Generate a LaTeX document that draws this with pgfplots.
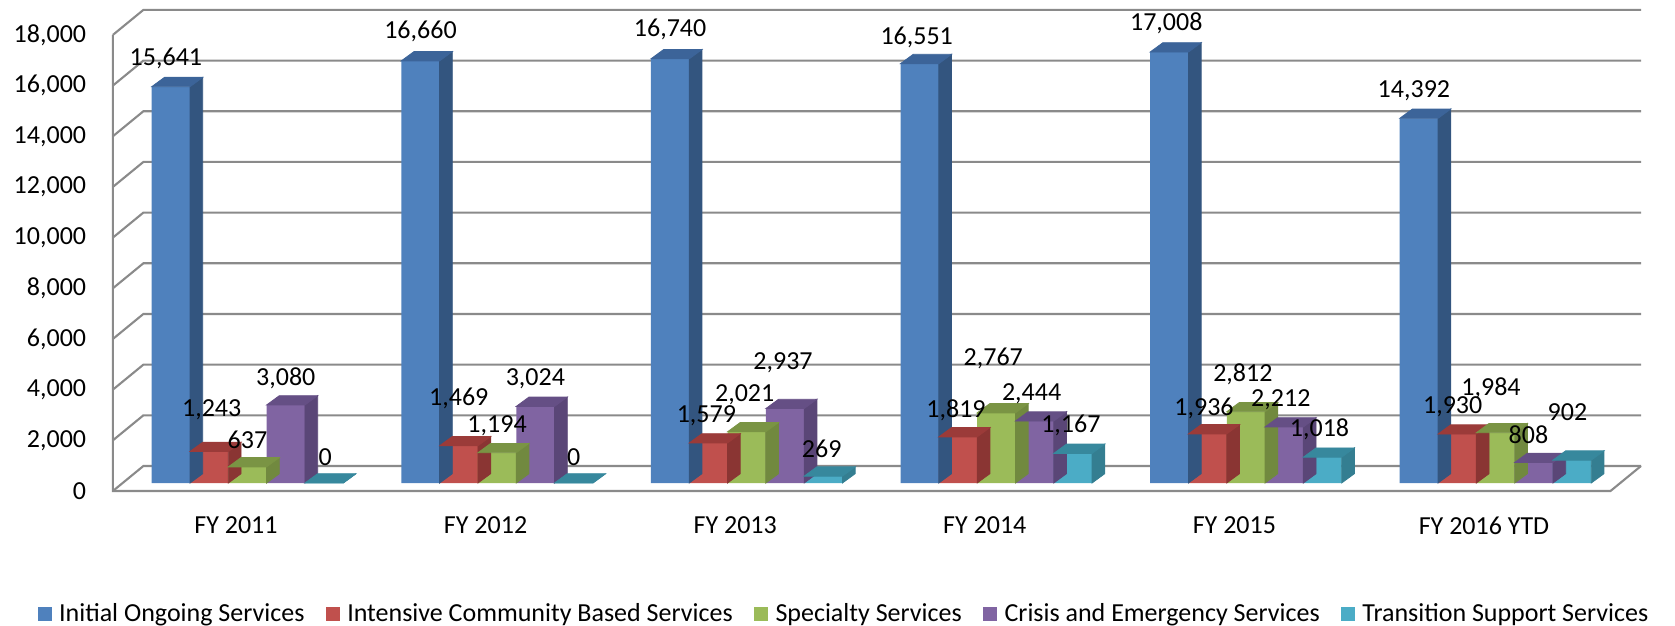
\documentclass[border=0pt]{standalone}
\usepackage{fontspec}
\setmainfont{Carlito}
\usepackage{pgfplots}
\pgfplotsset{compat=1.18}
\usepackage{pgfplotstable}

\definecolor{bF}{HTML}{4F81BD}\definecolor{bS}{HTML}{33557F}\definecolor{bT}{HTML}{3C6499}
\definecolor{rF}{HTML}{C0504D}\definecolor{rS}{HTML}{8A3533}\definecolor{rT}{HTML}{9B3B39}
\definecolor{gF}{HTML}{9BBB59}\definecolor{gS}{HTML}{71893F}\definecolor{gT}{HTML}{7A9444}
\definecolor{pF}{HTML}{8064A2}\definecolor{pS}{HTML}{5A4677}\definecolor{pT}{HTML}{654F85}
\definecolor{tF}{HTML}{4BACC6}\definecolor{tS}{HTML}{347E91}\definecolor{tT}{HTML}{37889D}
\definecolor{gridc}{HTML}{8A8A8A}

\pgfdeclareplotmark{emptymark}{}

% x = category index, y = value, lx/ly = label offset (px) from bar top centre
\pgfplotstableread{
x y lx ly
0 15641 -5 28
1 16660 0 29
2 16740 0 29
3 16551 -3 26.6
4 17008 -3 29
5 14392 -5 28
}\tIOS
\pgfplotstableread{
x y lx ly
0 1243 2.5 41.7
1 1469 0 47
2 1579 -2 27.3
3 1819 -2 26.7
4 1936 -3.6 26
5 1930 -4.5 27.7
}\tICB
\pgfplotstableread{
x y lx ly
0 637 0 26.7
1 1194 0 26.7
2 2021 -2 37
3 2767 -3 55
4 2812 -3 37
5 1984 -4.5 44
}\tSS
\pgfplotstableread{
x y lx ly
0 3080 0 27
1 3024 0 27.7
2 2937 -2 46
3 2444 -3 27.7
4 2212 -3.4 27.7
5 808 -5.4 28.3
}\tCES
\pgfplotstableread{
x y lx ly
0 0 1 26
1 0 0 26
2 269 -1.6 27
3 1167 -2 28
4 1018 -3 27.7
5 902 -4.7 47.7
}\tTSS

\pgfplotsset{
  front/.style={ybar, bar width=0.15345, bar shift=#1, draw=none,
    legend image code/.code={\fill[##1] (0pt,-3.5pt) rectangle (7pt,3.5pt);}},
  faces/.style 2 args={only marks, mark=emptymark, forget plot, scatter,
    point meta=y, point meta min=0, point meta max=18000,
    scatter/@pre marker code/.code={%
      \pgfmathsetmacro\hh{\pgfplotspointmetatransformed*0.22805}%
      \fill[#1] (9.575pt,0pt) -- (15.925pt,4.65pt) -- (15.925pt,4.65pt-\hh pt) -- (9.575pt,-\hh pt) -- cycle;
      \fill[#2] (-9.575pt,0pt) -- (9.575pt,0pt) -- (15.925pt,4.65pt) -- (-3.225pt,4.65pt) -- cycle;
    },
    scatter/@post marker code/.code={}},
  labels/.style={only marks, mark=emptymark, forget plot,
    nodes near coords,
    visualization depends on={\thisrow{lx} \as \labx},
    visualization depends on={\thisrow{ly} \as \laby},
    every node near coord/.append style={anchor=center, inner sep=0pt,
      font=\fontsize{13}{15}\selectfont, text=black,
      xshift=\labx*0.5pt, yshift=\laby*0.5pt}},
}

\begin{document}
\begin{tikzpicture}
\useasboundingbox (-61.35pt,-71.5pt) rectangle (776.15pt,241.5pt);
\begin{axis}[
  at={(0,0)}, anchor=south west,
  scale only axis, width=748.8pt, height=228.05pt,
  xmin=-0.5, xmax=5.5, ymin=0, ymax=18000,
  clip=false,
  axis line style={draw=none},
  major tick length=0pt,
  xtick={0,1,2,3,4,5},
  xticklabels={FY 2011,FY 2012,FY 2013,FY 2014,FY 2015,FY 2016 YTD},
  ytick={0,2000,4000,6000,8000,10000,12000,14000,16000,18000},
  scaled y ticks=false,
  /pgf/number format/.cd, fixed, 1000 sep={,}, assume math mode=true, /pgfplots/.cd,
  tick label style={font=\fontsize{13}{15}\selectfont, inner sep=0pt},
  yticklabel style={anchor=east, xshift=-18.1pt, yshift=-4pt},
  xticklabel style={anchor=center, xshift=-5.75pt, yshift=-21.3pt},
  legend style={at={(0.4824,-0.287)}, anchor=center, draw=none, fill=none,
    font=\fontsize{13}{15}\selectfont, inner sep=0pt,
    /tikz/every odd column/.append style={column sep=1.6pt},
    /tikz/every even column/.append style={column sep=8.8pt}},
  legend columns=-1,
]
% walls and floor
\pgfplotsinvokeforeach{0,2000,4000,6000,8000,10000,12000,14000,16000,18000}{
  \draw[gridc, line width=1.05pt] ([shift={(-4.9pt,-4pt)}]axis cs:-0.5,#1) -- ([shift={(10.35pt,8.5pt)}]axis cs:-0.5,#1) -- ([shift={(10.35pt,8.5pt)}]axis cs:5.5,#1);
}
\draw[gridc, line width=1.05pt] ([shift={(-4.9pt,-4pt)}]axis cs:-0.5,18000) -- ([shift={(-4.9pt,-4pt)}]axis cs:-0.5,0) -- ([shift={(-4.9pt,-4pt)}]axis cs:5.5,0) -- ([shift={(10.35pt,8.5pt)}]axis cs:5.5,0);

\addplot[faces={bS}{bT}] table[x expr=\thisrow{x}-0.3069, y=y] {\tIOS};
\addplot[front=-0.3069, fill=bF] table[x=x, y=y] {\tIOS};
\addlegendentry{Initial Ongoing Services}
\addplot[faces={rS}{rT}] table[x expr=\thisrow{x}-0.15345, y=y] {\tICB};
\addplot[front=-0.15345, fill=rF] table[x=x, y=y] {\tICB};
\addlegendentry{Intensive Community Based Services}
\addplot[faces={gS}{gT}] table[x expr=\thisrow{x}, y=y] {\tSS};
\addplot[front=0, fill=gF] table[x=x, y=y] {\tSS};
\addlegendentry{Specialty Services}
\addplot[faces={pS}{pT}] table[x expr=\thisrow{x}+0.15345, y=y] {\tCES};
\addplot[front=0.15345, fill=pF] table[x=x, y=y] {\tCES};
\addlegendentry{Crisis and Emergency Services}
\addplot[faces={tS}{tT}] table[x expr=\thisrow{x}+0.3069, y=y] {\tTSS};
\addplot[front=0.3069, fill=tF] table[x=x, y=y] {\tTSS};
\addlegendentry{Transition Support Services}

\addplot[labels] table[x expr=\thisrow{x}-0.3069, y=y] {\tIOS};
\addplot[labels] table[x expr=\thisrow{x}-0.15345, y=y] {\tICB};
\addplot[labels] table[x expr=\thisrow{x}, y=y] {\tSS};
\addplot[labels] table[x expr=\thisrow{x}+0.15345, y=y] {\tCES};
\addplot[labels] table[x expr=\thisrow{x}+0.3069, y=y] {\tTSS};
\end{axis}
\end{tikzpicture}
\end{document}
